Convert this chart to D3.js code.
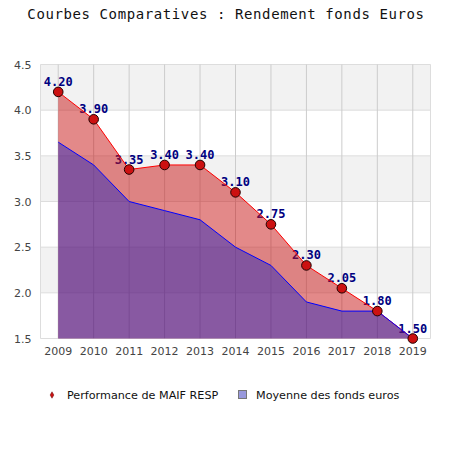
<!DOCTYPE html>
<html>
<head>
<meta charset="utf-8">
<script src="https://cdn.jsdelivr.net/npm/d3@7"></script>
<style>
  body { margin: 0; background: #fff; }
  svg { display: block; }
</style>
</head>
<body>
<svg id="chart" width="450" height="450"></svg>
<script>
/* Donnees du graphique */
var years       = ['2009', '2010', '2011', '2012', '2013', '2014', '2015', '2016', '2017', '2018', '2019'];
var maif_values = [4.20, 3.90, 3.35, 3.40, 3.40, 3.10, 2.75, 2.30, 2.05, 1.80, 1.50];
var avg_values  = [3.65, 3.40, 3.00, 2.90, 2.80, 2.50, 2.30, 1.90, 1.80, 1.80, 1.50];
var y_ticks     = [1.5, 2.0, 2.5, 3.0, 3.5, 4.0, 4.5];
var legend_labels = ['Performance de MAIF RESP', 'Moyenne des fonds euros'];

var svg = d3.select('#chart');

var m = { left: 40.5, right: 430.5, top: 64.5, bottom: 338.5 };

var x = d3.scaleBand().domain(years).range([m.left, m.right]);
var y = d3.scaleLinear().domain([1.5, 4.5]).range([m.bottom, m.top]);
var cx = function(d) { return x(d) + x.bandwidth() / 2; };

/* Titre */
svg.append('text')
    .attr('x', 226).attr('y', 19)
    .attr('text-anchor', 'middle')
    .attr('font-family', 'DejaVu Sans Mono, monospace')
    .attr('font-size', '14px')
    .attr('letter-spacing', '0.6px')
    .attr('fill', '#111')
    .text('Courbes Comparatives : Rendement fonds Euros');

/* Bandes de fond alternees */
var bands = y_ticks.slice(0, -1);
svg.selectAll('.band').data(bands).enter()
    .append('rect')
    .attr('x', m.left)
    .attr('width', m.right - m.left)
    .attr('y', function(d) { return y(d + 0.5); })
    .attr('height', function(d) { return y(d) - y(d + 0.5); })
    .attr('fill', function(d, i) { return i % 2 === 0 ? '#ffffff' : '#f2f2f2'; });

/* Grille */
svg.selectAll('.hgrid').data(y_ticks).enter()
    .append('line')
    .attr('x1', m.left).attr('x2', m.right)
    .attr('y1', function(d) { return y(d); })
    .attr('y2', function(d) { return y(d); })
    .attr('stroke', '#dddddd').attr('stroke-width', 1);

svg.selectAll('.vgrid').data(years).enter()
    .append('line')
    .attr('x1', cx).attr('x2', cx)
    .attr('y1', m.top).attr('y2', m.bottom)
    .attr('stroke', '#cccccc').attr('stroke-width', 1);

svg.append('line')
    .attr('x1', m.left).attr('x2', m.left)
    .attr('y1', m.top).attr('y2', m.bottom)
    .attr('stroke', '#dddddd');
svg.append('line')
    .attr('x1', m.right).attr('x2', m.right)
    .attr('y1', m.top).attr('y2', m.bottom)
    .attr('stroke', '#dddddd');

/* Axes */
var yAxis = svg.append('g')
    .attr('transform', 'translate(' + m.left + ',0)')
    .call(d3.axisLeft(y).tickValues(y_ticks).tickFormat(d3.format('.1f')).tickSize(0).tickPadding(9));
var xAxis = svg.append('g')
    .attr('transform', 'translate(0,' + m.bottom + ')')
    .call(d3.axisBottom(x).tickSize(0).tickPadding(9));

[yAxis, xAxis].forEach(function(a) {
    a.select('.domain').remove();
    a.selectAll('text')
        .attr('font-family', 'DejaVu Sans, sans-serif')
        .attr('font-size', '11px')
        .attr('fill', '#444');
});

/* Etiquettes des valeurs (sous les aires) */
svg.selectAll('.val').data(years).enter()
    .append('text')
    .attr('x', cx)
    .attr('y', function(d, i) { return y(maif_values[i]) - 6; })
    .attr('text-anchor', 'middle')
    .attr('font-family', 'DejaVu Sans Mono, monospace')
    .attr('font-weight', 'bold')
    .attr('font-size', '12px')
    .attr('fill', '#000080')
    .text(function(d, i) { return maif_values[i].toFixed(2); });

/* Aires */
var area_maif = d3.area()
    .x(function(d, i) { return cx(years[i]); })
    .y0(m.bottom)
    .y1(function(d) { return y(d); });

svg.append('path')
    .datum(maif_values)
    .attr('d', area_maif)
    .attr('fill', 'rgba(200,20,20,0.5)');

svg.append('path')
    .datum(avg_values)
    .attr('d', area_maif)
    .attr('fill', 'rgba(0,17,200,0.4)');

var line = d3.line()
    .x(function(d, i) { return cx(years[i]); })
    .y(function(d) { return y(d); });

svg.append('path')
    .datum(maif_values)
    .attr('d', line)
    .attr('fill', 'none')
    .attr('stroke', '#ff0000')
    .attr('stroke-width', 1);

svg.append('path')
    .datum(avg_values)
    .attr('d', line)
    .attr('fill', 'none')
    .attr('stroke', '#0000ff')
    .attr('stroke-width', 1);

/* Marqueurs */
svg.selectAll('.dot').data(years).enter()
    .append('circle')
    .attr('cx', cx)
    .attr('cy', function(d, i) { return y(maif_values[i]); })
    .attr('r', 4.8)
    .attr('fill', '#cc1111')
    .attr('stroke', '#220000')
    .attr('stroke-width', 1);

/* Legende */
var lg = svg.append('g');
lg.append('path')
    .attr('d', d3.symbol().type(d3.symbolDiamond).size(12))
    .attr('transform', 'translate(52,395)')
    .attr('fill', '#cc1111')
    .attr('stroke', '#661111')
    .attr('stroke-width', 0.5);
lg.append('text')
    .attr('x', 67).attr('y', 399)
    .attr('font-family', 'DejaVu Sans, sans-serif')
    .attr('font-size', '11.2px')
    .attr('fill', '#111')
    .text(legend_labels[0]);
lg.append('rect')
    .attr('x', 238.5).attr('y', 390.5)
    .attr('width', 8).attr('height', 8)
    .attr('fill', '#9999dd')
    .attr('stroke', '#777');
lg.append('text')
    .attr('x', 256).attr('y', 399)
    .attr('font-family', 'DejaVu Sans, sans-serif')
    .attr('font-size', '11.2px')
    .attr('fill', '#111')
    .text(legend_labels[1]);
</script>
</body>
</html>
